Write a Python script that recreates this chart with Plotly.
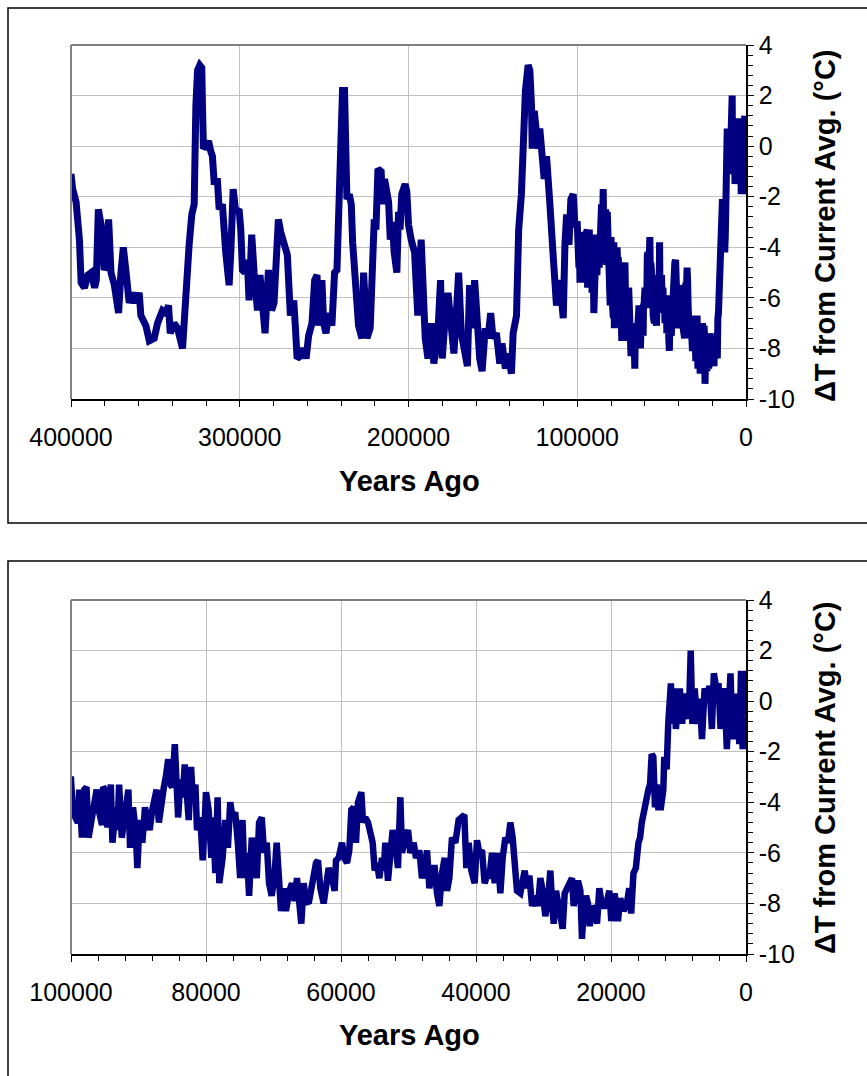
import plotly.graph_objects as go

# Ice-core temperature record: years before present and temperature anomaly (°C)
years_glacial = [
    400000, 399000, 397000, 395000, 394000, 392000, 390000, 388000, 386000, 385000,
    383800, 382200, 380300, 379300, 377700, 376300, 374300, 371800, 370400, 369000,
    367500, 365500, 363500, 361600, 359600, 358600, 355600, 353600, 350700, 348700,
    345800, 343800, 342200, 341200, 338900, 336900, 333900, 332300, 330000, 328400,
    327000, 326000, 325000, 323700, 322500, 322100, 321500, 320100, 318500, 317200,
    316200, 315200, 313200, 312200, 310300, 308300, 306300, 305300, 303900, 302400,
    300400, 299400, 298400, 297000, 295500, 294500, 292900, 291500, 289500, 288000,
    286600, 285000, 283000, 281100, 279700, 278700, 277100, 275700, 273800, 271800,
    270000, 268000, 267000, 266000, 264100, 262100, 260700, 259200, 257200, 255600,
    254200, 253300, 251300, 250300, 248900, 247300, 245400, 243800, 242400, 241400,
    240000, 239100, 237900, 237100, 236500, 235100, 233900, 233100, 231600, 229600,
    227600, 226600, 225600, 224600, 222700, 221700, 220300, 219300, 218100, 216200,
    215400, 214200, 212800, 211800, 210800, 209500, 208500, 206900, 205900, 205000,
    204000, 202000, 201000, 200000, 198400, 196400, 194500, 192500, 191500, 190100,
    188500, 186500, 185000, 182600, 181000, 180000, 178600, 176600, 174700, 173100,
    171700, 170300, 168700, 167100, 165100, 163800, 162400, 160800, 159300, 157800,
    156400, 154500, 152900, 151300, 149900, 147900, 145900, 144600, 142600, 141000,
    139000, 138000, 136000, 134700, 133100, 132100, 130700, 129100, 128100, 127100,
    126700, 125500, 124200, 123200, 122200, 120800, 119600, 118200, 117200, 116200,
    114300, 112300, 110300, 108300, 107300, 106300, 104900, 103800, 102400, 101400,
]
temps_glacial = [
    -1.1, -1.7, -2.2, -3.7, -5.4, -5.6, -5.1, -5.0, -5.6, -5.3,
    -2.5, -3.1, -4.9, -4.7, -2.9, -5.0, -5.5, -6.6, -5.0, -4.0,
    -4.9, -6.2, -5.8, -6.2, -5.8, -6.7, -7.1, -7.7, -7.6, -7.0,
    -6.5, -6.6, -6.3, -7.4, -7.0, -7.2, -8.0, -5.8, -3.9, -2.7,
    -2.3, 1.6, 3.0, 3.2, 3.1, 1.6, -0.1, 0.0, 0.2, -0.2,
    -0.4, -1.4, -1.4, -2.5, -2.3, -4.2, -5.5, -4.2, -1.7, -2.6,
    -2.5, -3.3, -4.9, -5.0, -4.5, -6.1, -3.5, -5.0, -6.5, -5.1,
    -6.4, -7.4, -4.9, -6.5, -6.2, -4.5, -2.9, -3.4, -3.8, -4.3,
    -6.7, -6.1, -7.2, -8.4, -8.3, -8.0, -8.4, -7.5, -7.0, -5.3,
    -5.1, -7.1, -5.3, -7.0, -7.4, -6.6, -7.1, -5.0, -4.9, -2.1,
    0.6, 2.2, 2.2, 0.3, -2.1, -1.9, -2.3, -3.8, -5.3, -7.1,
    -7.6, -5.0, -6.3, -7.6, -7.2, -4.3, -2.9, -3.3, -0.9, -1.0,
    -2.3, -1.3, -1.7, -2.2, -3.7, -3.0, -4.2, -5.0, -2.6, -3.3,
    -1.9, -1.5, -1.8, -3.1, -3.7, -4.2, -6.7, -3.7, -5.3, -7.6,
    -8.4, -7.0, -8.6, -7.4, -5.3, -8.4, -7.1, -5.8, -7.1, -8.2,
    -6.7, -5.0, -7.4, -8.0, -8.7, -5.5, -7.2, -5.3, -7.0, -8.4,
    -8.9, -7.2, -7.6, -6.6, -7.6, -7.4, -8.6, -7.8, -8.8, -8.2,
    -9.0, -7.4, -6.7, -3.3, -1.9, 0.2, 2.2, 3.2, 3.0, 1.6,
    -0.1, 1.4, 0.8, -0.1, 0.7, -0.2, -1.3, -0.4, -1.8, -2.3,
    -4.3, -6.3, -5.3, -6.8, -3.9, -2.7, -3.9, -2.1, -1.9, -3.1,
]

years_recent = [
    100000, 99750, 99360, 99000, 98770, 98380, 98030, 97700, 97400, 97050,
    96560, 96200, 95900, 95400, 95250, 94940, 94600, 94100, 93860, 93360,
    93120, 92870, 92480, 92140, 91890, 91500, 91250, 90810, 90420, 90170,
    89830, 89430, 89040, 88700, 88350, 87960, 87570, 87320, 86980, 86580,
    86240, 85900, 85600, 85260, 85010, 84620, 84420, 84130, 83780, 83440,
    83150, 82800, 82560, 82210, 81970, 81570, 81330, 80840, 80490, 80200,
    80000, 79610, 79210, 78970, 78620, 78280, 78030, 77540, 77150, 76760,
    76410, 76070, 75680, 75280, 74940, 74590, 74300, 73960, 73610, 73220,
    72820, 72480, 72140, 71740, 71400, 71000, 70660, 70270, 69880, 69530,
    69190, 68890, 68490, 68150, 67650, 67260, 66860, 66520, 66170, 65880,
    65530, 65190, 64790, 64400, 64050, 63700, 63410, 63060, 62570, 62220,
    61830, 61330, 60940, 60740, 60350, 59850, 59510, 59110, 58770, 58470,
    58120, 57780, 57480, 56990, 56740, 56400, 56000, 55650, 55310, 55010,
    54670, 54320, 53930, 53680, 53430, 53040, 52690, 52350, 51950, 51560,
    51210, 50960, 50470, 50070, 49730, 49230, 48890, 48400, 48000, 47610,
    47260, 46910, 46520, 46120, 45780, 45430, 45040, 44640, 44300, 43950,
    43560, 43060, 42570, 42170, 41730, 41430, 41090, 40690, 40200, 39850,
    39510, 39110, 38720, 38370, 38020, 37630, 37230, 36790, 36390, 36050,
    35650, 35260, 34910, 34570, 34270, 33930, 33430, 33090, 32790, 32440,
    32100, 31700, 31210, 30810, 30470, 30120, 29730, 29330, 28990, 28740,
    28490, 28150, 27850, 27510, 27160, 26860, 26520, 26170, 25780, 25530,
    25280, 24890, 24540, 24300, 24050, 23700, 23410, 23160, 22810, 22420,
    22070, 21730, 21330, 20940, 20590, 20250, 19950, 19460, 18970, 18630,
    18140, 17650, 17300, 17010, 16670, 16320, 15930, 15690, 15440, 15050,
    14710, 14460, 14220, 13970, 13730, 13480, 13240, 13000, 12600, 12250,
    12110, 11760, 11520, 11370, 11130, 10880, 10640, 10390, 10150, 9800,
    9460, 9170, 8820, 8480, 8190, 7940, 7600, 7210, 6860, 6520,
    6130, 5740, 5390, 5050, 4760, 4410, 4070, 3770, 3430, 3190,
    2840, 2600, 2300, 2060, 1810, 1470, 1230, 980, 740, 490,
    250, 100,
]
temps_recent = [
    -3.1, -4.2, -4.6, -4.8, -3.5, -5.4, -3.5, -3.4, -5.4, -4.8,
    -4.2, -3.5, -4.3, -4.9, -3.4, -3.5, -5.0, -3.3, -5.6, -4.2,
    -5.1, -3.3, -5.4, -4.6, -4.3, -3.5, -5.8, -4.2, -5.1, -6.6,
    -4.7, -5.6, -4.2, -4.7, -5.1, -4.3, -3.6, -3.5, -4.8, -3.8,
    -3.4, -2.9, -2.3, -3.3, -3.4, -1.7, -3.4, -4.6, -3.1, -3.8,
    -2.5, -3.5, -4.7, -2.6, -3.8, -3.3, -5.1, -4.6, -6.3, -4.8,
    -3.6, -4.3, -6.2, -4.6, -6.8, -3.8, -7.2, -6.2, -4.7, -5.8,
    -4.0, -4.6, -4.4, -5.6, -7.0, -4.7, -7.0, -6.0, -7.7, -5.4,
    -6.4, -7.0, -4.8, -4.6, -6.0, -5.6, -7.2, -7.7, -7.0, -5.6,
    -7.0, -8.3, -7.4, -8.3, -7.5, -7.2, -7.9, -7.0, -8.0, -8.8,
    -7.2, -7.9, -8.0, -7.5, -6.8, -6.4, -6.3, -7.4, -8.0, -7.2,
    -6.6, -7.0, -7.5, -6.3, -6.2, -5.6, -6.2, -6.4, -5.9, -4.3,
    -4.2, -5.6, -4.0, -3.6, -4.8, -4.6, -4.8, -5.2, -5.6, -6.7,
    -6.4, -7.0, -6.2, -6.7, -5.6, -7.1, -6.0, -5.1, -5.6, -6.6,
    -3.8, -6.0, -5.4, -5.1, -6.0, -5.6, -6.2, -5.9, -7.0, -6.6,
    -5.9, -7.4, -6.6, -6.6, -7.6, -8.1, -6.8, -6.2, -7.5, -7.0,
    -5.4, -5.6, -4.7, -4.6, -4.5, -6.6, -5.6, -6.7, -7.2, -5.5,
    -6.0, -5.9, -7.2, -6.9, -7.0, -6.0, -7.2, -6.0, -7.6, -6.2,
    -5.4, -5.6, -4.8, -5.4, -6.4, -7.5, -7.6, -7.1, -6.7, -7.4,
    -6.9, -8.1, -7.7, -8.1, -7.0, -7.5, -8.5, -7.9, -6.7, -7.9,
    -8.8, -7.5, -8.1, -8.3, -9.0, -7.6, -7.4, -7.1, -7.0, -8.1,
    -7.5, -7.1, -7.5, -9.4, -8.3, -7.7, -8.0, -8.9, -8.1, -8.3,
    -8.8, -7.4, -8.1, -8.1, -7.9, -7.5, -8.7, -7.6, -8.7, -7.8,
    -8.3, -8.0, -7.4, -8.4, -6.8, -6.6, -5.6, -5.4, -4.8, -4.2,
    -3.8, -3.5, -3.3, -2.1, -2.2, -4.2, -3.3, -4.2, -4.2, -3.5,
    -2.2, -2.7, -0.9, 0.7, 0.7, -0.9, 0.5, -1.1, -0.1, 0.5,
    -0.9, 0.3, -0.3, -0.7, 2.0, -0.9, 0.5, -0.9, 0.1, -1.5,
    0.5, 0.2, 0.6, -1.1, 1.1, 0.5, 0.7, -1.1, 0.2, 0.5,
    -1.9, 0.2, 1.1, -0.9, -1.5, 0.3, -0.6, -1.7, 1.2, -1.9,
    1.2, -0.6,
]

years = years_glacial + years_recent
temps = temps_glacial + temps_recent

# Axis tick labels
x_ticks_long = [400000, 300000, 200000, 100000, 0]
x_labels_long = ["400000", "300000", "200000", "100000", "0"]
x_ticks_short = [100000, 80000, 60000, 40000, 20000, 0]
x_labels_short = ["100000", "80000", "60000", "40000", "20000", "0"]
y_ticks = [-10, -8, -6, -4, -2, 0, 2, 4]
y_labels = ["-10", "-8", "-6", "-4", "-2", "0", "2", "4"]

x_title = "Years Ago"
y_title = "ΔT from Current Avg. (°C)"

W, H = 867, 1076
FONT = "Liberation Sans, Arial, sans-serif"
NAVY = "#000080"
GRID = "#c0c0c0"


def px_x(p):
    return p / W


def px_y(p):
    return 1 - p / H


x_dom = [px_x(71), px_x(746)]
y_dom_top = [px_y(399), px_y(45)]
y_dom_bot = [px_y(954), px_y(600)]

fig = go.Figure()
fig.add_trace(go.Scatter(x=years, y=temps, mode="lines", xaxis="x", yaxis="y",
                         line=dict(color=NAVY, width=7), showlegend=False))
fig.add_trace(go.Scatter(x=years, y=temps, mode="lines", xaxis="x2", yaxis="y2",
                         line=dict(color=NAVY, width=6.5), showlegend=False))

tick_font = dict(family=FONT, size=25, color="black")
title_font = dict(family=FONT, size=29, color="black")


def x_axis(dom_anchor, rng, tv, tt, minor_dtick):
    return dict(
        domain=x_dom, anchor=dom_anchor, range=rng, automargin=False,
        tickmode="array", tickvals=tv, ticktext=tt,
        ticks="outside", ticklen=6, tickwidth=1, tickcolor="black",
        showline=True, linecolor="black", linewidth=1.5,
        showgrid=True, gridcolor=GRID, gridwidth=1, zeroline=False,
        minor=dict(tickmode="linear", tick0=0, dtick=minor_dtick, ticklen=5,
                   tickwidth=1, tickcolor="black", showgrid=False),
        tickfont=tick_font, ticklabelstandoff=9,
    )


def y_axis(dom, anchor):
    return dict(
        domain=dom, anchor=anchor, side="right", range=[-10, 4], automargin=False,
        tickmode="array", tickvals=y_ticks, ticktext=y_labels,
        ticks="outside", ticklen=6, tickwidth=1, tickcolor="black",
        showline=True, linecolor="black", linewidth=1.5,
        showgrid=True, gridcolor=GRID, gridwidth=1, zeroline=False,
        minor=dict(tickmode="linear", tick0=0, dtick=0.4, ticklen=5,
                   tickwidth=1, tickcolor="black", showgrid=False),
        tickfont=tick_font, ticklabelstandoff=0,
    )


shapes = []
# Chart frames around each panel
shapes.append(dict(type="rect", xref="paper", yref="paper",
                   x0=px_x(8), x1=1.05, y0=px_y(523), y1=px_y(8),
                   line=dict(color="black", width=1.5), fillcolor="rgba(0,0,0,0)", layer="below"))
shapes.append(dict(type="rect", xref="paper", yref="paper",
                   x0=px_x(8), x1=1.05, y0=-0.05, y1=px_y(561),
                   line=dict(color="black", width=1.5), fillcolor="rgba(0,0,0,0)", layer="below"))
# Grey plot-area border on top and left
for xr, yr in (("x domain", "y domain"), ("x2 domain", "y2 domain")):
    shapes.append(dict(type="line", xref=xr, yref=yr, x0=0, x1=1, y0=1, y1=1,
                       line=dict(color="#808080", width=2)))
    shapes.append(dict(type="line", xref=xr, yref=yr, x0=0, x1=0, y0=0, y1=1,
                       line=dict(color="#808080", width=2)))

# Axis titles for both panels
annotations = []
for y_title_px, x_title_px in ((226, 481), (778, 1035)):
    annotations.append(dict(text=f"<b>{x_title}</b>", xref="paper", yref="paper",
                            x=px_x(409), y=px_y(x_title_px), xanchor="center", yanchor="middle",
                            showarrow=False, font=title_font))
    annotations.append(dict(text=f"<b>{y_title}</b>", xref="paper", yref="paper",
                            x=px_x(825), y=px_y(y_title_px), xanchor="center", yanchor="middle",
                            textangle=-90, showarrow=False, font=title_font))

fig.update_layout(
    width=W, height=H, autosize=False,
    margin=dict(l=0, r=0, t=0, b=0),
    paper_bgcolor="white", plot_bgcolor="white",
    xaxis=x_axis("y", [400000, 0], x_ticks_long, x_labels_long, 20000),
    yaxis=y_axis(y_dom_top, "x"),
    xaxis2=x_axis("y2", [100000, 0], x_ticks_short, x_labels_short, 4000),
    yaxis2=y_axis(y_dom_bot, "x2"),
    shapes=shapes,
    annotations=annotations,
    showlegend=False,
)

fig.write_html("out.html")
